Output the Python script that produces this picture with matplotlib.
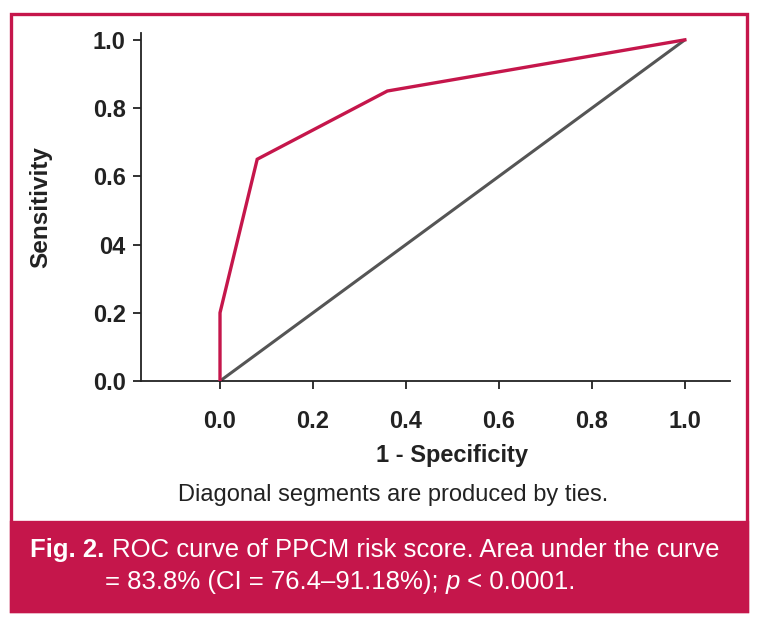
import matplotlib
matplotlib.use("Agg")
import matplotlib.pyplot as plt
from matplotlib.patches import Rectangle

# ROC data
fpr = [0.0, 0.0, 0.08, 0.36, 1.0]
tpr = [0.0, 0.2, 0.65, 0.85, 1.0]
ref_x = [0.0, 1.0]
ref_y = [0.0, 1.0]
xticks = [0.0, 0.2, 0.4, 0.6, 0.8, 1.0]
yticks = [0.0, 0.2, 0.4, 0.6, 0.8, 1.0]
ylabels = ["0.0", "0.2", "04", "0.6", "0.8", "1.0"]

crimson = "#C5164B"
gray = "#555555"
plt.rcParams['font.family'] = ['Liberation Sans', 'DejaVu Sans']

fig = plt.figure(figsize=(7.6, 6.24), dpi=100)
ax = fig.add_axes([0.1855, 0.3894, 0.775, 0.5577])

ax.plot(ref_x, ref_y, color=gray, lw=2.2, solid_capstyle='butt', zorder=2)
ax.plot(fpr, tpr, color=crimson, lw=2.4, solid_joinstyle='miter', zorder=3)

ax.set_xlim(-0.17, 1.097)
ax.set_ylim(0, 1.02)
ax.set_xticks(xticks)
ax.set_xticklabels([f"{v:.1f}" for v in xticks])
ax.set_yticks(yticks)
ax.set_yticklabels(ylabels)
for s in ['top', 'right']:
    ax.spines[s].set_visible(False)
for s in ['left', 'bottom']:
    ax.spines[s].set_linewidth(1.3)
    ax.spines[s].set_color('#222222')
ax.tick_params(axis='x', direction='out', length=6, width=1.3, pad=15, labelsize=17, colors='#222222')
ax.tick_params(axis='y', direction='out', length=6, width=1.3, pad=5, labelsize=17, colors='#222222')
for lab in ax.get_xticklabels() + ax.get_yticklabels():
    lab.set_fontweight('bold')

ax.set_xlabel("1 - Specificity", fontsize=17, fontweight='bold', color='#222222')
ax.xaxis.set_label_coords(0.528, -0.18)
ax.set_ylabel("Sensitivity", fontsize=17.5, fontweight='bold', labelpad=29, color='#222222')

# frame and caption band
fig.patches.append(Rectangle((0.0145, 0.0208), 0.9685, 0.9568, transform=fig.transFigure,
                             fill=False, edgecolor=crimson, lw=2.4, zorder=0))
fig.patches.append(Rectangle((0.0145, 0.0208), 0.9685, 0.1427, transform=fig.transFigure,
                             facecolor=crimson, edgecolor=crimson, lw=2.4, zorder=0))

fig.text(0.517, 0.207, "Diagonal segments are produced by ties.", ha='center', va='center',
         fontsize=17, color='#222222')

r = fig.canvas.get_renderer()
cap = 18.5
t1 = fig.text(0.04, 0.118, "Fig. 2. ", fontsize=cap, fontweight='bold',
              color='white', va='center')
bb = t1.get_window_extent(r)
fig.text(bb.x1 / fig.bbox.width, 0.118, "ROC curve of PPCM risk score. Area under the curve",
         fontsize=cap, color='white', va='center')
t2 = fig.text(0.138, 0.067, "= 83.8% (CI = 76.4\u201391.18%); ", fontsize=cap,
              color='white', va='center')
bb = t2.get_window_extent(r)
t3 = fig.text(bb.x1 / fig.bbox.width, 0.067, "p", fontsize=cap, style='italic',
              color='white', va='center')
bb = t3.get_window_extent(r)
fig.text(bb.x1 / fig.bbox.width, 0.067, " < 0.0001.", fontsize=cap,
         color='white', va='center')

fig.savefig("out.png", dpi=100)
